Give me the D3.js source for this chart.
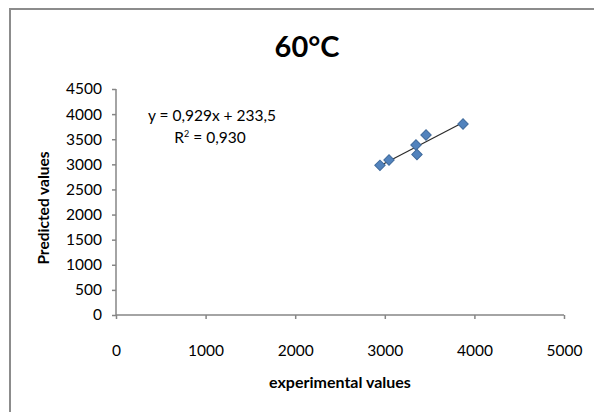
<!DOCTYPE html>
<html>
<head>
<meta charset="utf-8">
<script src="https://cdn.jsdelivr.net/npm/d3@7/dist/d3.min.js"></script>
<style>
  html, body { margin: 0; padding: 0; background: #fff; }
  svg { display: block; }
  text { font-family: Lato, "Open Sans", sans-serif; fill: #000; }
</style>
</head>
<body>
<svg id="chart" width="594" height="412"></svg>
<script>
// Experimental vs predicted values at 60°C
const experimental = [2946, 3047, 3348, 3359, 3460, 3873];
const predicted    = [2980, 3086, 3385, 3196, 3584, 3803];

const xTicks = [0, 1000, 2000, 3000, 4000, 5000];
const yTicks = [0, 500, 1000, 1500, 2000, 2500, 3000, 3500, 4000, 4500];

// Linear trend fitted to the data
const slope = 0.929;
const intercept = 233.5;
const rSquared = 0.930;

const title = "60°C";
const xTitle = "experimental values";
const yTitle = "Predicted values";

const fmt = v => v.toFixed(3).replace(".", ",");
const eqText = `y = ${fmt(slope)}x + ${intercept.toFixed(1).replace(".", ",")}`;

const svg = d3.select("#chart");

// Outer chart frame
svg.append("rect")
  .attr("x", 10).attr("y", 9)
  .attr("width", 620).attr("height", 440)
  .attr("fill", "none")
  .attr("stroke", "#8c8c8c")
  .attr("stroke-width", 2);

const x = d3.scaleLinear().domain([0, 5000]).range([116, 564]);
const y = d3.scaleLinear().domain([0, 4500]).range([315, 89]);

const axisColor = "#868686";
const tickFont = 15.5;

// X axis
const gx = svg.append("g")
  .attr("transform", `translate(0,${y(0)})`)
  .call(d3.axisBottom(x).tickValues(xTicks).tickSize(4).tickPadding(26).tickFormat(d3.format("d")));
gx.select(".domain").attr("stroke", axisColor).attr("stroke-width", 1.5).attr("d", `M${x(0)},0H${x(5000)}`);
gx.selectAll(".tick line").attr("stroke", axisColor).attr("stroke-width", 1.5);
gx.selectAll(".tick text").attr("font-size", tickFont).attr("font-family", "Lato, sans-serif");

// Y axis
const gy = svg.append("g")
  .attr("transform", `translate(${x(0)},0)`)
  .call(d3.axisLeft(y).tickValues(yTicks).tickSize(4).tickPadding(10).tickFormat(d3.format("d")));
gy.select(".domain").attr("stroke", axisColor).attr("stroke-width", 1.5).attr("d", `M0,${y(0)}V${y(4500)}`);
gy.selectAll(".tick line").attr("stroke", axisColor).attr("stroke-width", 1.5);
gy.selectAll(".tick text").attr("font-size", tickFont).attr("font-family", "Lato, sans-serif");

// Trend line over the range of the data
const xMin = d3.min(experimental), xMax = d3.max(experimental);
svg.append("line")
  .attr("x1", x(xMin)).attr("y1", y(slope * xMin + intercept))
  .attr("x2", x(xMax)).attr("y2", y(slope * xMax + intercept))
  .attr("stroke", "#2b2b2b")
  .attr("stroke-width", 1.2);

// Data markers (diamonds)
const data = experimental.map((v, i) => ({ x: v, y: predicted[i] }));
svg.append("g").selectAll("path")
  .data(data)
  .join("path")
  .attr("d", d3.symbol(d3.symbolSquare, 54)())
  .attr("transform", d => `translate(${x(d.x)},${y(d.y)}) rotate(45)`)
  .attr("fill", "#5283bd")
  .attr("stroke", "#3f6a9c")
  .attr("stroke-width", 1);

// Title
svg.append("text")
  .attr("x", 307).attr("y", 57)
  .attr("text-anchor", "middle")
  .attr("font-size", 29).attr("font-weight", "bold")
  .text(title);

// Trend equation
svg.append("text")
  .attr("x", 212).attr("y", 121)
  .attr("text-anchor", "middle")
  .attr("font-size", 15.5)
  .text(eqText);
const r2 = svg.append("text")
  .attr("x", 210).attr("y", 143)
  .attr("text-anchor", "middle")
  .attr("font-size", 15.5);
r2.append("tspan").text("R");
r2.append("tspan").attr("font-size", 9).attr("dy", -6).text("2");
r2.append("tspan").attr("dy", 6).text(` = ${fmt(rSquared)}`);

// Axis titles
svg.append("text")
  .attr("x", 340).attr("y", 388)
  .attr("text-anchor", "middle")
  .attr("font-size", 16).attr("font-weight", "bold")
  .text(xTitle);

svg.append("text")
  .attr("transform", `translate(49,${(y(0) + y(4500)) / 2 + 6}) rotate(-90)`)
  .attr("text-anchor", "middle")
  .attr("font-size", 15.5).attr("font-weight", "bold")
  .text(yTitle);
</script>
</body>
</html>
